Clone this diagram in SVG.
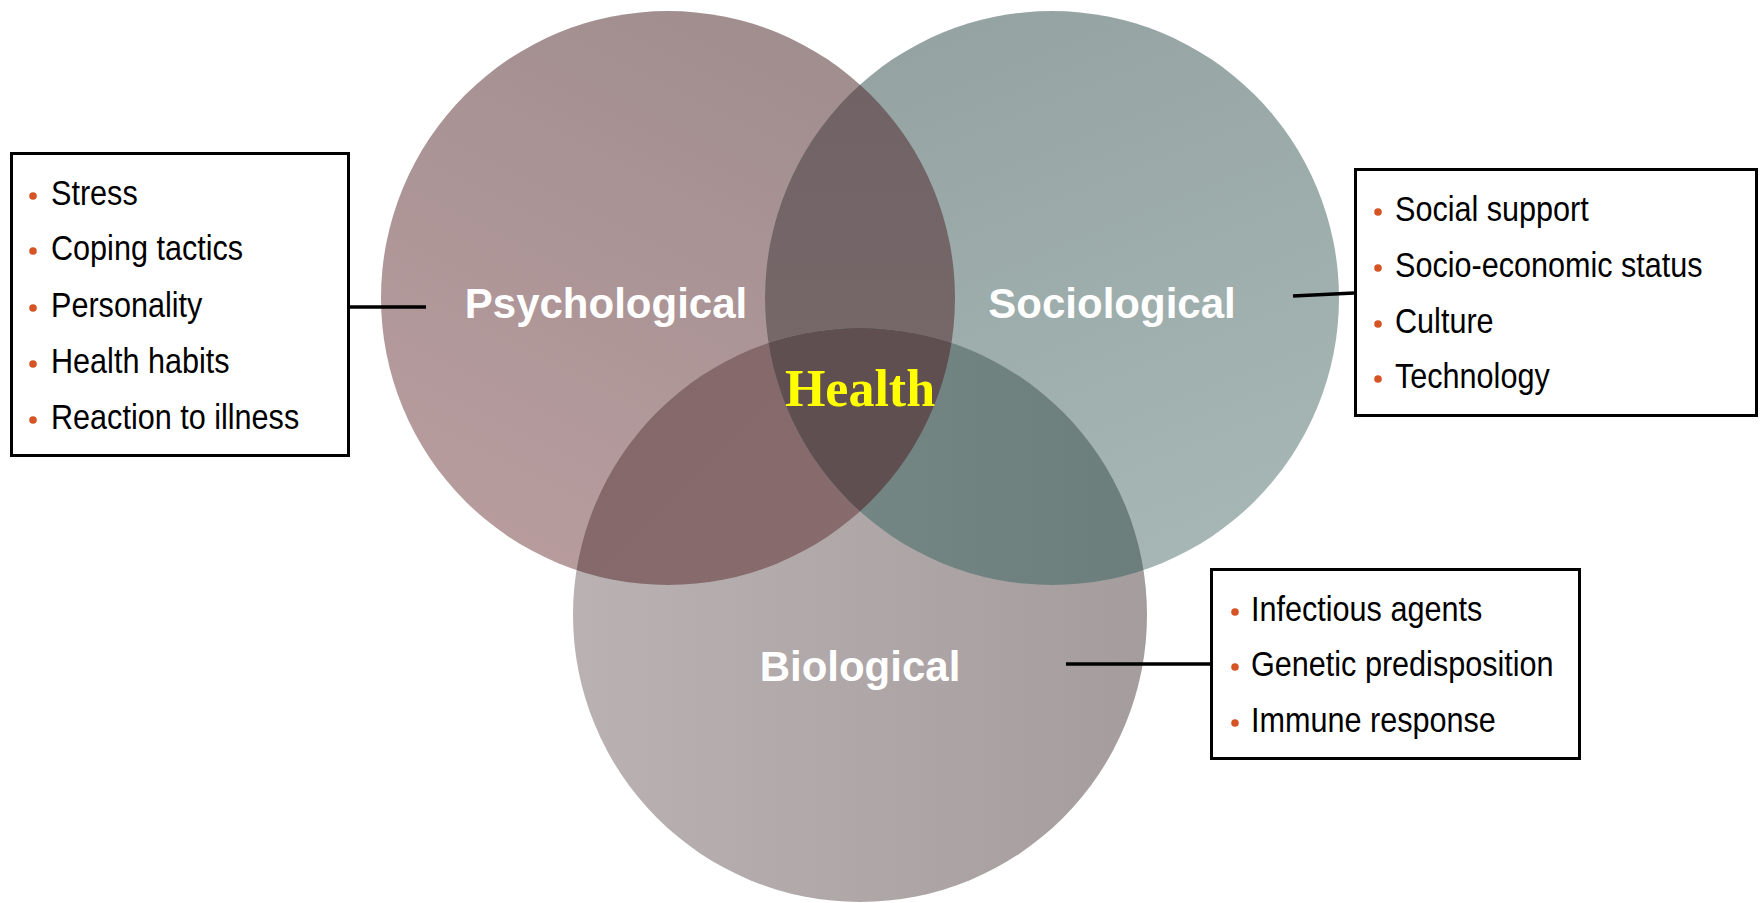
<svg xmlns="http://www.w3.org/2000/svg" width="1760" height="903" viewBox="0 0 1760 903">
<style>
.lbl{font-family:"Liberation Sans",Arial,sans-serif;font-weight:bold;font-size:42px;fill:#ffffff;text-anchor:middle}
.health{font-family:"Liberation Serif","Times New Roman",serif;font-weight:bold;font-size:52px;fill:#ffff00;text-anchor:middle}
.item{font-family:"Liberation Sans Narrow","Arial Narrow","Liberation Sans",sans-serif;font-size:36px;fill:#000000}
.bul{fill:#d65323}
.box{fill:#ffffff;stroke:#000000;stroke-width:3}
.conn{stroke:#000000;stroke-width:3.5;fill:none}
</style>
<defs>
<linearGradient id="gP" x1="0.7" y1="0" x2="0.2" y2="1"><stop offset="0" stop-color="#a08d8e"/><stop offset="1" stop-color="#b99d9f"/></linearGradient>
<linearGradient id="gS" x1="0.3" y1="0" x2="0.7" y2="1"><stop offset="0" stop-color="#94a3a2"/><stop offset="1" stop-color="#a6b7b5"/></linearGradient>
<linearGradient id="gB" x1="0" y1="0" x2="1" y2="0"><stop offset="0" stop-color="#b9b1b2"/><stop offset="1" stop-color="#a49c9d"/></linearGradient>
<linearGradient id="gPS" x1="0" y1="0" x2="0" y2="1"><stop offset="0" stop-color="#706264"/><stop offset="1" stop-color="#7a6b6c"/></linearGradient>
<linearGradient id="gPB" x1="0" y1="0" x2="1" y2="1"><stop offset="0" stop-color="#836769"/><stop offset="1" stop-color="#8c7072"/></linearGradient>
<linearGradient id="gSB" x1="0" y1="0" x2="1" y2="0"><stop offset="0" stop-color="#7b8e8c"/><stop offset="1" stop-color="#6c7e7c"/></linearGradient>
<clipPath id="cP"><circle cx="668" cy="298" r="287"/></clipPath>
<clipPath id="cS"><circle cx="1052" cy="298" r="287"/></clipPath>
</defs>
<rect width="1760" height="903" fill="#ffffff"/>
<g id="psychological">
<circle cx="668" cy="298" r="287" fill="url(#gP)"/>
<text class="lbl" x="606" y="318">Psychological</text>
</g>
<g id="sociological">
<circle cx="1052" cy="298" r="287" fill="url(#gS)"/>
<circle cx="1052" cy="298" r="287" fill="url(#gPS)" clip-path="url(#cP)"/>
<text class="lbl" x="1112" y="318">Sociological</text>
</g>
<g id="biological">
<circle cx="860" cy="615" r="287" fill="url(#gB)"/>
<circle cx="860" cy="615" r="287" fill="url(#gPB)" clip-path="url(#cP)"/>
<circle cx="860" cy="615" r="287" fill="url(#gSB)" clip-path="url(#cS)"/>
<g clip-path="url(#cP)"><circle cx="860" cy="615" r="287" fill="#5f4f51" clip-path="url(#cS)"/></g>
<text class="lbl" x="860" y="681">Biological</text>
</g>
<g id="health">
<text class="health" x="860" y="406">Health</text>
</g>
<g id="connectors">
<line class="conn" x1="349" y1="307" x2="426" y2="307"/>
<line class="conn" x1="1293" y1="296" x2="1354" y2="293"/>
<line class="conn" x1="1066" y1="664" x2="1210" y2="664"/>
</g>
<g id="box-psychological">
<rect class="box" x="11.5" y="153.5" width="337" height="302"/>
<circle class="bul" cx="33" cy="196" r="3.8"/>
<circle class="bul" cx="33" cy="251" r="3.8"/>
<circle class="bul" cx="33" cy="308" r="3.8"/>
<circle class="bul" cx="33" cy="364" r="3.8"/>
<circle class="bul" cx="33" cy="420" r="3.8"/>
<g transform="translate(51,0) scale(0.85,1)">
<text class="item" x="0" y="205">Stress</text>
<text class="item" x="0" y="260">Coping tactics</text>
<text class="item" x="0" y="317">Personality</text>
<text class="item" x="0" y="373">Health habits</text>
<text class="item" x="0" y="429">Reaction to illness</text>
</g>
</g>
<g id="box-sociological">
<rect class="box" x="1355.5" y="169.5" width="401" height="246"/>
<circle class="bul" cx="1378" cy="212" r="3.8"/>
<circle class="bul" cx="1378" cy="268" r="3.8"/>
<circle class="bul" cx="1378" cy="324" r="3.8"/>
<circle class="bul" cx="1378" cy="379" r="3.8"/>
<g transform="translate(1395,0) scale(0.85,1)">
<text class="item" x="0" y="221">Social support</text>
<text class="item" x="0" y="277">Socio-economic status</text>
<text class="item" x="0" y="333">Culture</text>
<text class="item" x="0" y="388">Technology</text>
</g>
</g>
<g id="box-biological">
<rect class="box" x="1211.5" y="569.5" width="368" height="189"/>
<circle class="bul" cx="1235" cy="612" r="3.8"/>
<circle class="bul" cx="1235" cy="667" r="3.8"/>
<circle class="bul" cx="1235" cy="723" r="3.8"/>
<g transform="translate(1251,0) scale(0.85,1)">
<text class="item" x="0" y="621">Infectious agents</text>
<text class="item" x="0" y="676">Genetic predisposition</text>
<text class="item" x="0" y="732">Immune response</text>
</g>
</g>
</svg>
